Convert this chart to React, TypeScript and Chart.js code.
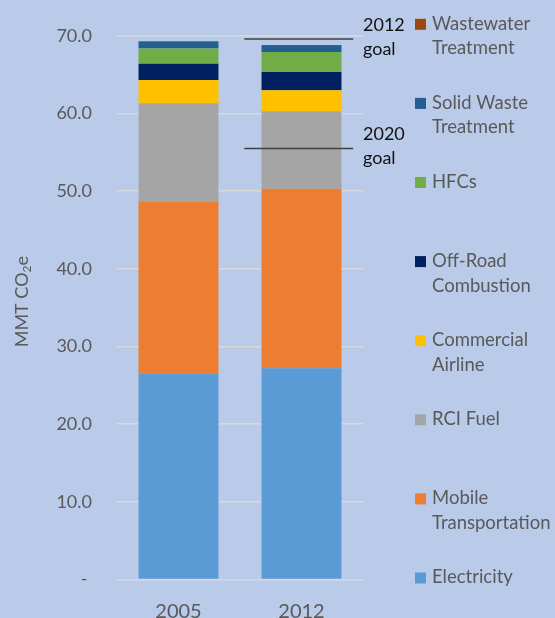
import React, { useEffect, useRef } from "react";
import { Chart, registerables } from "chart.js";

Chart.register(...registerables);

const categories = ["2005", "2012"];
const seriesNames = [
  "Electricity",
  "Mobile\nTransportation",
  "RCI Fuel",
  "Commercial\nAirline",
  "Off-Road\nCombustion",
  "HFCs",
  "Solid Waste\nTreatment",
  "Wastewater\nTreatment",
];
const electricity = [26.5, 27.2];
const mobileTransportation = [22.1, 23.1];
const rciFuel = [12.7, 10.0];
const commercialAirline = [3.0, 2.7];
const offRoadCombustion = [2.1, 2.35];
const hfcs = [1.95, 2.55];
const solidWaste = [0.85, 0.8];
const wastewater = [0.1, 0.1];
const seriesColors = [
  "#5B9BD5",
  "#ED7D31",
  "#A5A5A5",
  "#FFC000",
  "#002060",
  "#70AD47",
  "#255E91",
  "#9E480E",
];
const goalValues = [69.6, 55.5];
const goalLabels = ["2012\ngoal", "2020\ngoal"];
const yTicks = [0, 10, 20, 30, 40, 50, 60, 70];

const FONT = "Lato";
const TEXT = "#595959";
const BG = "#B9CBE9";

const overlay = {
  id: "overlay",
  afterDraw(chart: any) {
    const ctx = chart.ctx as CanvasRenderingContext2D;
    const area = chart.chartArea;
    const x = chart.scales.x;
    const y = chart.scales.y;
    ctx.save();

    // y axis title with subscript
    ctx.save();
    ctx.translate(22, (area.top + area.bottom) / 2 - 6);
    ctx.rotate(-Math.PI / 2);
    ctx.fillStyle = TEXT;
    ctx.textBaseline = "middle";
    ctx.textAlign = "left";
    const big = `18px ${FONT}`;
    const small = `12px ${FONT}`;
    ctx.font = big;
    const w1 = ctx.measureText("MMT CO").width;
    const w3 = ctx.measureText("e").width;
    ctx.font = small;
    const w2 = ctx.measureText("2").width;
    let sx = -(w1 + w2 + w3) / 2;
    ctx.font = big;
    ctx.fillText("MMT CO", sx, 0);
    sx += w1;
    ctx.font = small;
    ctx.fillText("2", sx, 5);
    sx += w2;
    ctx.font = big;
    ctx.fillText("e", sx, 0);
    ctx.restore();

    // goal lines
    const cw = x.getPixelForValue(1) - x.getPixelForValue(0);
    const cx = x.getPixelForValue(1);
    goalValues.forEach((g, i) => {
      const gy = y.getPixelForValue(g);
      ctx.strokeStyle = "#404040";
      ctx.lineWidth = 1.5;
      ctx.beginPath();
      ctx.moveTo(cx - 0.465 * cw, gy);
      ctx.lineTo(cx + 0.42 * cw, gy);
      ctx.stroke();
      ctx.fillStyle = "#111111";
      ctx.font = `18px ${FONT}`;
      ctx.textAlign = "left";
      ctx.textBaseline = "middle";
      const lines = goalLabels[i].split("\n");
      ctx.fillText(lines[0], cx + 0.5 * cw, gy - 14);
      ctx.fillText(lines[1], cx + 0.5 * cw, gy + 10);
    });

    // legend
    const n = seriesNames.length;
    const top = area.top - 12;
    const step = (area.bottom - 2 - top) / (n - 1);
    for (let i = 0; i < n; i++) {
      const idx = n - 1 - i;
      const cy = top + i * step;
      ctx.fillStyle = seriesColors[idx];
      ctx.fillRect(415, cy - 5, 11, 11);
      ctx.fillStyle = TEXT;
      ctx.font = `18.5px ${FONT}`;
      ctx.textAlign = "left";
      ctx.textBaseline = "middle";
      seriesNames[idx].split("\n").forEach((line, j) => {
        ctx.fillText(line, 432, cy + j * 24.5);
      });
    }
    ctx.restore();
  },
};

export default function App() {
  const ref = useRef<HTMLCanvasElement | null>(null);
  useEffect(() => {
    document.body.style.margin = "0";
    document.body.style.background = BG;
    const canvas = ref.current!;
    const values = [
      electricity,
      mobileTransportation,
      rciFuel,
      commercialAirline,
      offRoadCombustion,
      hfcs,
      solidWaste,
      wastewater,
    ];
    const chart = new Chart(canvas, {
      type: "bar",
      data: {
        labels: categories,
        datasets: values.map((v, i) => ({
          label: seriesNames[i],
          data: v,
          backgroundColor: seriesColors[i],
          borderWidth: 0,
          barPercentage: 0.65,
          categoryPercentage: 1,
        })),
      },
      options: {
        responsive: false,
        animation: false,
        layout: { padding: { top: 34, right: 192, bottom: 0, left: 0 } },
        plugins: { legend: { display: false }, tooltip: { enabled: false } },
        scales: {
          x: {
            stacked: true,
            grid: { display: false },
            border: { display: false },
            ticks: { color: TEXT, font: { family: FONT, size: 20 }, padding: 12 },
            afterFit: (s: any) => {
              s.height = 38.5;
            },
          },
          y: {
            stacked: true,
            min: 0,
            max: 70,
            afterBuildTicks: (s: any) => {
              s.ticks = yTicks.map((v) => ({ value: v }));
            },
            ticks: {
              color: TEXT,
              font: { family: FONT, size: 18 },
              padding: 25,
              callback: (v: any) => (Number(v) === 0 ? "- " : Number(v).toFixed(1)),
            },
            grid: { color: "#D9D9D9", lineWidth: 1.5, drawTicks: false },
            border: { display: false },
            afterFit: (s: any) => {
              s.width = 117;
            },
          },
        },
      },
      plugins: [overlay],
    });
    return () => chart.destroy();
  }, []);
  return (
    <div style={{ width: 555, height: 618, background: BG }}>
      <canvas ref={ref} width={555} height={618} style={{ display: "block" }} />
    </div>
  );
}
